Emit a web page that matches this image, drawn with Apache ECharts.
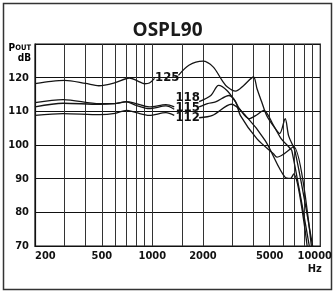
<!DOCTYPE html>
<html>
<head>
<meta charset="utf-8">
<script src="https://cdn.jsdelivr.net/npm/echarts@6/dist/echarts.min.js"></script>
<style>
  html, body { margin: 0; padding: 0; background: #fff; }
  #chart { width: 335px; height: 293px; }
</style>
</head>
<body>
<div id="chart"></div>
<script>
// x grid lines / labels (Hz)
const gridFreqs = [200, 300, 400, 500, 600, 700, 800, 900, 1000, 1500, 2000, 3000, 4000, 5000, 6000, 7000, 8000, 9000, 10000];
const labelFreqs = [200, 500, 1000, 2000, 5000, 10000];

// curves: [Hz, dB]  left part (below the labels) and right part
const c125Left = [[200,118.2],[250,118.9],[300,119.2],[400,118.3],[480,117.6],[600,118.5],[730,119.9],[820,119.0],[900,118.2],[960,118.4],[1030,119.8]];
const c125Right = [[1430,120.7],[1650,123.7],[2000,124.9],[2300,123.2],[2600,119.2],[2800,117.2],[3130,116.0],[3500,117.7],[4000,120.2],[4200,116.7],[4470,112.9],[4800,108.7],[5300,105.4],[5730,103.4],[6180,107.8],[6480,102.7],[7090,97.9],[9000,70]];

const c118Left = [[200,112.6],[294,113.5],[485,112.3],[594,112.3],[700,112.9],[800,112.3],[958,111.3],[1205,112.0],[1350,111.3]];
const c118Right = [[1900,112.9],[2230,114.7],[2480,117.7],[2780,116.2],[3130,112.8],[3300,110.8],[3760,107.8],[4200,109.0],[4600,110.3],[5270,105.8],[5860,101.8],[6500,99.4],[6770,98.3],[8600,70]];

const c115Left = [[200,111.3],[294,112.4],[485,112.1],[594,112.3],[700,112.8],[800,111.8],[958,110.8],[1205,111.6],[1350,110.6]];
const c115Right = [[1900,111.3],[2130,112.3],[2380,112.8],[2860,114.7],[3130,112.8],[3340,108.8],[4200,101.8],[5260,97.4],[5520,96.4],[6000,97.2],[6940,99.5],[8850,70]];

const c112Left = [[200,108.8],[294,109.3],[485,109.0],[600,109.4],[700,110.3],[800,109.6],[958,108.8],[1205,109.6],[1350,108.8]];
const c112Right = [[1900,108.1],[2280,108.8],[2950,112.1],[3580,108.8],[4700,101.3],[6180,90.4],[6650,90.1],[6940,91.4],[8350,70]];

// curve names written in the gap
const curveNames = ['125', '118', '115', '112'];
const nameFreqs = [1226, 1622, 1622, 1622];
const nameDbs = [120.0, 114.0, 111.2, 108.0];

const chart = echarts.init(document.getElementById('chart'), null, { renderer: 'canvas' });

const lineStyle = { color: '#151515', width: 1.3 };
function curve(data) {
  return {
    type: 'line',
    data: data,
    symbol: 'none',
    smooth: 0.3,
    lineStyle: lineStyle,
    silent: true
  };
}

const narrow = "'Liberation Sans Narrow', 'DejaVu Sans Condensed', sans-serif";

const option = {
  backgroundColor: '#fff',
  animation: false,
  title: {
    text: 'OSPL90',
    left: 'center',
    top: 16,
    textStyle: { fontFamily: "'Open Sans', sans-serif", fontWeight: 'bold', fontSize: 19, color: '#1a1a1a' }
  },
  grid: {
    left: 35, right: 13, top: 44, bottom: 47,
    show: true, borderColor: '#111', borderWidth: 1.2
  },
  xAxis: {
    type: 'log',
    logBase: 10,
    min: 200,
    max: 10000,
    axisLine: { show: true, lineStyle: { color: '#111', width: 1.2 } },
    axisTick: { show: false, customValues: gridFreqs },
    splitLine: { show: true, lineStyle: { color: '#333', width: 1 } },
    axisLabel: {
      customValues: labelFreqs,
      color: '#111',
      fontFamily: narrow,
      fontWeight: 'bold',
      fontSize: 11,
      margin: 5,
      alignMinLabel: 'left',
      formatter: function (v) {
        if (v >= 10000) return '{m|10000}\n{h|Hz}';
        return String(v);
      },
      rich: {
        m: { fontFamily: narrow, fontWeight: 'bold', fontSize: 11, color: '#111', padding: [0, 11, 0, 0] },
        h: { fontFamily: narrow, fontWeight: 'bold', fontSize: 11, color: '#111', padding: [2, 11, 0, 0] }
      }
    }
  },
  yAxis: {
    type: 'value',
    min: 70,
    max: 130,
    interval: 10,
    axisLine: { show: true, lineStyle: { color: '#111', width: 1.2 } },
    axisTick: { show: false },
    splitLine: { show: true, lineStyle: { color: '#111', width: 1 } },
    axisLabel: {
      color: '#111',
      fontFamily: narrow,
      fontWeight: 'bold',
      fontSize: 11,
      margin: 6,
      formatter: function (v) { return v >= 130 ? '' : String(v); }
    }
  },
  graphic: [
    {
      type: 'rect',
      shape: { x: 3.5, y: 3.5, width: 328, height: 286 },
      style: { fill: 'none', stroke: '#333', lineWidth: 1.5 },
      silent: true
    },
    {
      type: 'text',
      right: 304,
      top: 43,
      style: {
        text: '{p|P}{o|OUT}\n{d|dB}',
        align: 'right',
        rich: {
          p: { fontFamily: narrow, fontWeight: 'bold', fontSize: 10, color: '#111' },
          o: { fontFamily: narrow, fontWeight: 'bold', fontSize: 7.5, color: '#111' },
          d: { fontFamily: narrow, fontWeight: 'bold', fontSize: 10, color: '#111', align: 'right' }
        }
      },
      silent: true
    }
  ],
  series: [
    curve(c125Left), curve(c125Right),
    curve(c118Left), curve(c118Right),
    curve(c115Left), curve(c115Right),
    curve(c112Left), curve(c112Right),
    {
      type: 'scatter',
      symbolSize: 0,
      silent: true,
      itemStyle: { color: '#111', opacity: 1 },
      data: curveNames.map((n, i) => [nameFreqs[i], nameDbs[i], n]),
      label: {
        show: true,
        position: 'inside',
        formatter: p => p.value[2],
        fontFamily: narrow,
        fontWeight: 'bold',
        fontSize: 13,
        color: '#111',
        textBorderWidth: 0
      }
    }
  ]
};

chart.setOption(option);
</script>
</body>
</html>
